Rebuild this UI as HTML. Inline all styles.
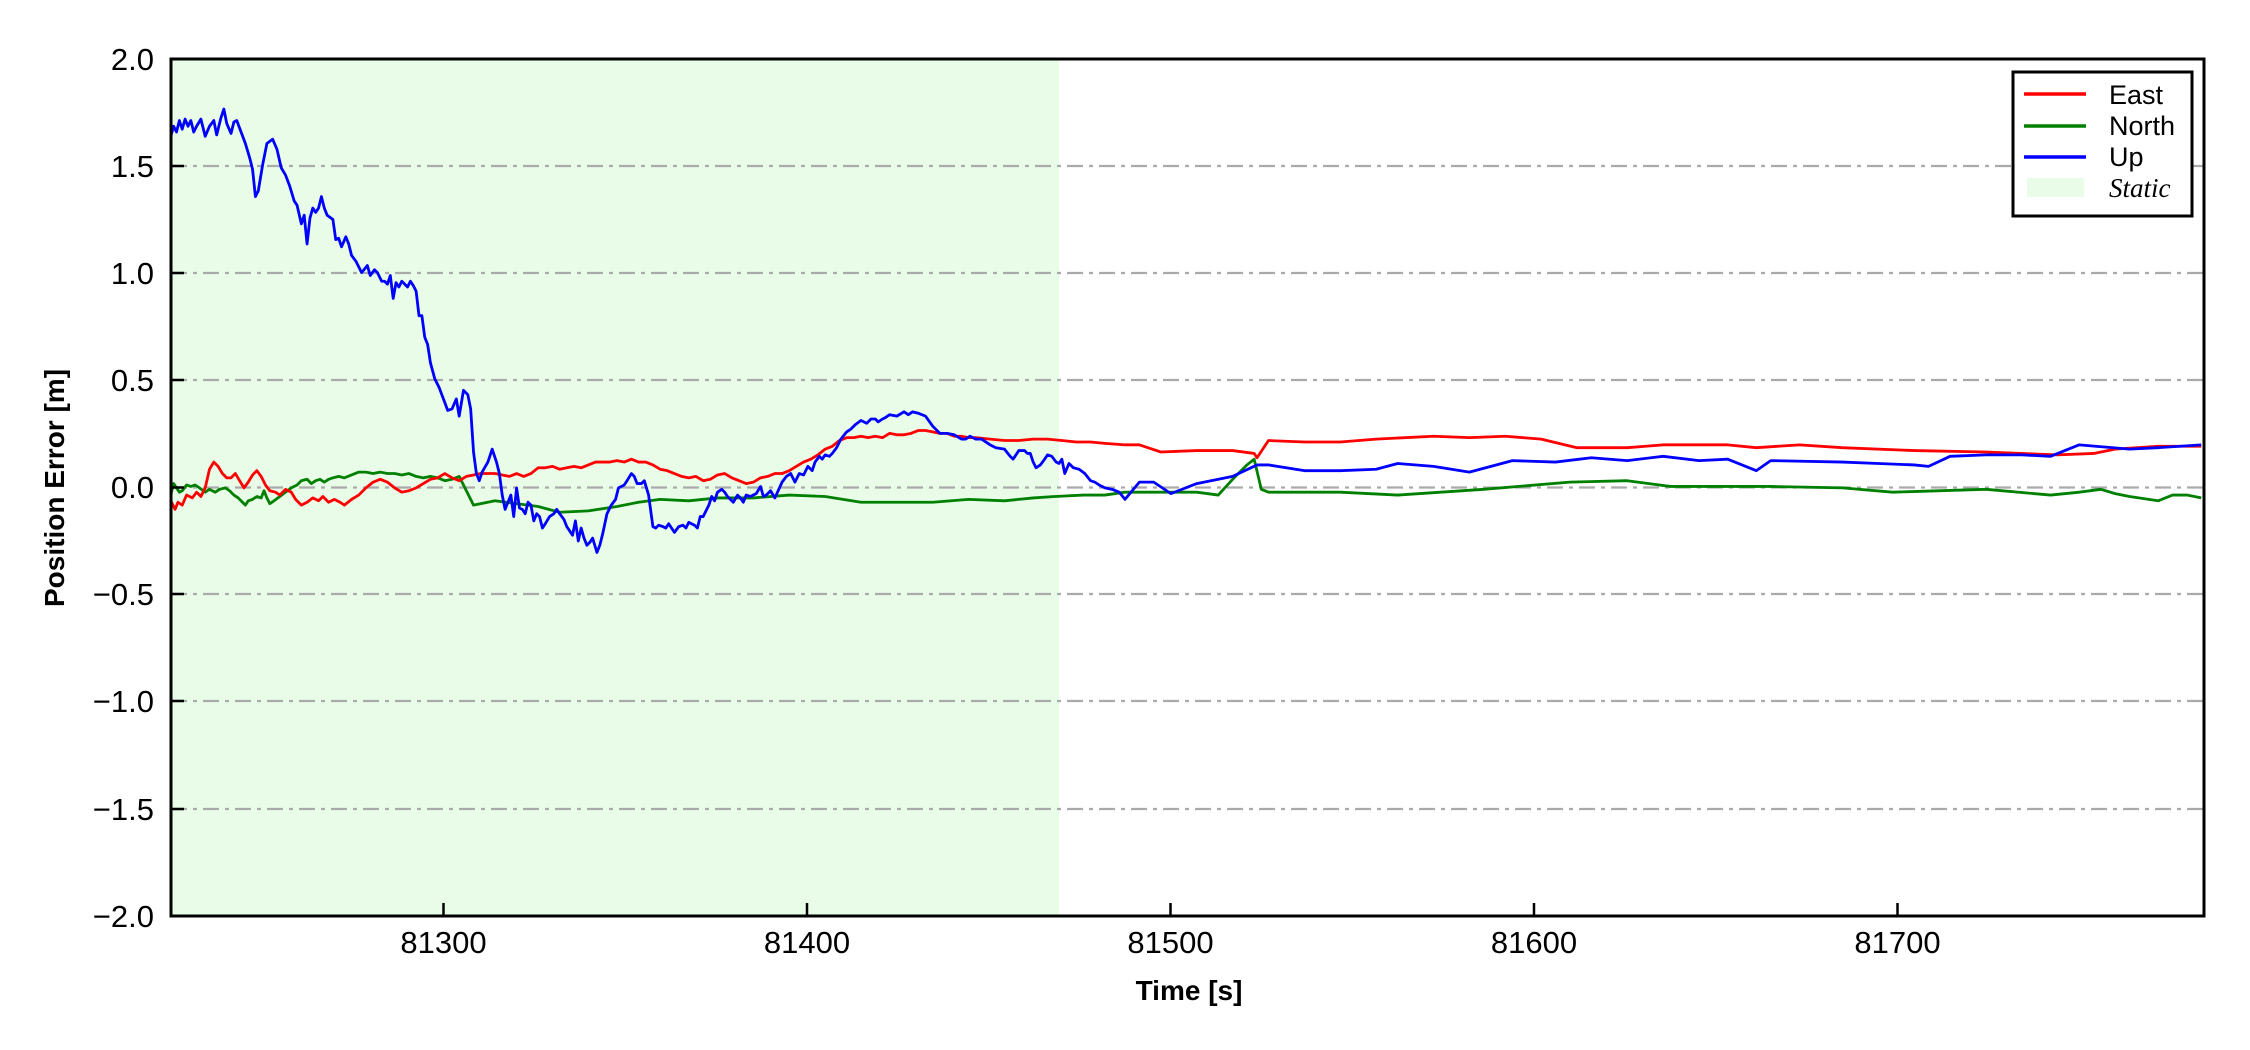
<!DOCTYPE html>
<html><head><meta charset="utf-8"><style>
html,body{margin:0;padding:0;background:#fff;}
svg{display:block;font-family:"Liberation Sans",Arial,sans-serif;}
</style></head><body>
<svg width="2250" height="1050" viewBox="0 0 2250 1050" xmlns="http://www.w3.org/2000/svg">
<defs><clipPath id="c"><rect x="171" y="59" width="2033" height="857"/></clipPath></defs>
<rect x="171" y="59" width="888" height="857" fill="#e8fce8"/>
<g stroke="#aaaaaa" stroke-width="2.2" stroke-dasharray="16,6,4,6">
<line x1="171" x2="2204" y1="166" y2="166"/><line x1="171" x2="2204" y1="273" y2="273"/>
<line x1="171" x2="2204" y1="380" y2="380"/><line x1="171" x2="2204" y1="487.5" y2="487.5"/>
<line x1="171" x2="2204" y1="594" y2="594"/><line x1="171" x2="2204" y1="701" y2="701"/>
<line x1="171" x2="2204" y1="809" y2="809"/>
</g>
<g clip-path="url(#c)"><g transform="scale(1.43495)" fill="none" stroke-width="2.8" stroke-linejoin="round">
<polyline vector-effect="non-scaling-stroke" stroke="#008000" points="119,345 121,337 123,340 125,343 127,342 130,338 133,339 136,338 139,340 143,343 146,341 150,343 153,341 157,340 160,342 163,345 166,347 169,350 171,352 173,349 176,348 179,346 182,347 184,342 186,347 188,351 191,349 195,346 199,343 203,340 207,338 210,335 214,334 217,337 220,335 223,334 226,336 229,334 232,333 236,332 240,333 245,331 250,329 255,329 260,330 265,329 270,330 275,330 280,331 285,330 290,332 295,333 300,332 305,333 310,335 315,334 320,332 330,352 345,349 360,351 375,353 390,357 410,356 430,353 445,350 460,348 480,349 500,347 525,347 550,345 575,346 600,350 625,350 650,350 675,348 700,349 720,347 735,346 755,345 770,345 784,343 800,343 834,343 849,345 859,334 869,324 874,320 879,341 884,343 934,343 974,345 1034,341 1094,336 1134,335 1164,339 1234,339 1284,340 1319,343 1384,341 1429,345 1449,343 1464,341 1474,344 1484,346 1504,349 1514,345 1524,345 1534,347"/>
<polyline vector-effect="non-scaling-stroke" stroke="#ff0000" points="119,349 122,355 124,350 127,352 130,345 134,347 137,343 140,346 143,340 146,327 149,322 152,325 155,330 158,333 161,333 164,330 167,335 170,340 173,336 176,331 179,328 182,332 185,338 188,342 192,343 195,345 199,341 203,343 206,348 210,352 214,350 218,347 222,349 225,346 229,350 233,348 237,350 240,352 245,348 250,345 255,340 260,336 265,334 270,336 275,340 280,343 285,342 290,340 295,337 300,334 305,333 310,330 315,333 320,335 325,332 330,331 335,330 340,330 345,330 350,331 355,332 360,330 365,332 370,330 375,326 380,326 385,325 390,327 395,326 400,325 405,326 410,324 415,322 420,322 425,322 430,321 435,322 440,320 445,322 450,322 455,324 460,327 465,328 470,330 475,332 480,333 485,332 490,335 495,334 500,331 505,330 510,333 515,335 520,337 525,336 530,333 535,332 540,330 545,330 550,328 555,325 560,322 565,320 570,317 575,313 580,311 585,307 590,305 595,305 600,304 605,305 610,304 615,305 620,302 625,303 630,303 635,302 640,300 645,300 650,301 655,302 660,302 665,304 670,304 675,305 680,305 690,306 700,307 710,307 720,306 730,306 740,307 750,308 760,308 770,309 784,310 794,310 809,315 834,314 859,314 874,316 876,319 884,307 909,308 934,308 959,306 999,304 1024,305 1049,304 1074,306 1099,312 1134,312 1159,310 1204,310 1224,312 1254,310 1284,312 1334,314 1384,315 1434,317 1459,316 1474,313 1504,311 1534,311"/>
<polyline vector-effect="non-scaling-stroke" stroke="#0000ff" points="119,95 121,88 123,92 125,84 127,90 129,83 131,88 133,84 135,92 137,88 140,83 143,95 146,88 149,84 151,94 154,82 156,76 158,86 161,93 163,85 165,84 168,92 171,100 174,110 176,118 178,137 180,133 183,115 186,100 190,97 193,104 196,117 199,122 202,130 205,140 207,143 210,156 212,150 214,170 216,152 218,145 220,148 222,145 224,137 226,145 228,150 232,153 234,167 236,166 238,172 241,165 243,170 245,178 248,182 252,190 256,185 258,192 261,188 263,190 266,196 268,196 270,198 272,192 274,208 276,197 278,200 280,196 284,200 286,196 288,199 290,203 292,220 294,220 296,235 298,240 300,253 303,264 306,270 309,278 312,286 315,285 318,278 320,290 323,272 326,275 328,285 330,315 332,330 334,335 336,329 340,322 343,313 346,322 348,330 350,345 352,355 354,350 356,345 358,360 360,340 362,354 364,355 366,358 368,350 370,352 372,363 374,358 376,360 378,368 380,365 383,360 386,358 388,355 390,358 393,362 395,367 397,370 399,373 401,363 403,377 405,368 407,375 409,380 411,378 413,375 416,385 418,380 420,372 423,358 426,352 429,348 431,340 435,338 437,335 440,330 442,332 444,337 447,337 449,335 452,345 455,367 457,368 459,366 462,367 464,368 466,365 470,371 473,367 476,366 478,368 480,364 484,366 486,368 488,360 490,360 492,356 494,352 496,346 498,349 500,343 503,341 505,343 507,346 509,348 511,350 514,345 516,347 518,350 520,345 523,346 525,345 527,344 530,339 532,346 534,345 537,342 540,347 545,336 548,332 551,330 554,336 557,330 560,331 563,325 566,328 568,322 571,318 573,320 575,317 578,318 580,316 583,312 586,306 590,301 593,299 596,296 600,293 604,295 607,292 610,292 612,294 615,292 617,291 620,289 625,290 630,287 633,289 636,287 640,288 645,290 650,297 655,302 660,302 665,303 670,306 673,306 676,304 680,306 684,306 690,310 694,312 700,313 704,318 706,320 710,314 714,314 716,316 718,316 720,322 722,326 725,324 728,320 730,317 733,318 736,322 738,323 740,320 742,330 745,323 748,326 752,327 756,330 760,335 763,336 766,338 770,340 775,341 780,343 784,348 794,336 804,336 816,344 834,337 859,332 876,324 884,324 909,328 934,328 959,327 974,323 999,325 1024,329 1054,321 1084,322 1109,319 1134,321 1159,318 1184,321 1204,320 1224,328 1234,321 1284,322 1309,323 1334,324 1344,325 1359,318 1384,317 1409,317 1429,318 1449,310 1484,313 1504,312 1534,310"/>
</g></g>
<rect x="171" y="59" width="2033" height="857" fill="none" stroke="#000" stroke-width="3"/>
<g stroke="#000" stroke-width="2.5">
<line x1="443.5" x2="443.5" y1="916" y2="903"/><line x1="807" x2="807" y1="916" y2="903"/>
<line x1="1170.5" x2="1170.5" y1="916" y2="903"/><line x1="1534" x2="1534" y1="916" y2="903"/>
<line x1="1897.5" x2="1897.5" y1="916" y2="903"/>
<line x1="171" x2="184" y1="166" y2="166"/><line x1="171" x2="184" y1="273" y2="273"/><line x1="171" x2="184" y1="380" y2="380"/><line x1="171" x2="184" y1="487.5" y2="487.5"/><line x1="171" x2="184" y1="594" y2="594"/><line x1="171" x2="184" y1="701" y2="701"/><line x1="171" x2="184" y1="809" y2="809"/>
</g>
<g font-size="31" fill="#000" text-anchor="end">
<text x="154" y="70">2.0</text><text x="154" y="177">1.5</text><text x="154" y="284">1.0</text><text x="154" y="391">0.5</text><text x="154" y="498">0.0</text><text x="154" y="605">−0.5</text><text x="154" y="712">−1.0</text><text x="154" y="820">−1.5</text><text x="154" y="927">−2.0</text>
</g>
<g font-size="31" fill="#000" text-anchor="middle">
<text x="443.5" y="953">81300</text><text x="807" y="953">81400</text><text x="1170.5" y="953">81500</text><text x="1534" y="953">81600</text><text x="1897.5" y="953">81700</text>
</g>
<text x="1189" y="1000" font-size="28" font-weight="bold" text-anchor="middle">Time [s]</text>
<text transform="translate(64,488) rotate(-90)" font-size="28" font-weight="bold" text-anchor="middle">Position Error [m]</text>
<rect x="2013" y="72" width="179" height="144" fill="#fff" stroke="#000" stroke-width="3"/>
<g stroke-width="3.5">
<line x1="2024" x2="2086" y1="94" y2="94" stroke="#ff0000"/>
<line x1="2024" x2="2086" y1="126" y2="126" stroke="#008000"/>
<line x1="2024" x2="2086" y1="157" y2="157" stroke="#0000ff"/>
</g>
<rect x="2027" y="178" width="57" height="19" fill="#e8fce8"/>
<g font-size="27" fill="#000">
<text x="2109" y="104">East</text><text x="2109" y="135">North</text><text x="2109" y="166">Up</text>
<text x="2109" y="197" font-family="Liberation Serif,serif" font-style="italic">Static</text>
</g>
</svg>
</body></html>
